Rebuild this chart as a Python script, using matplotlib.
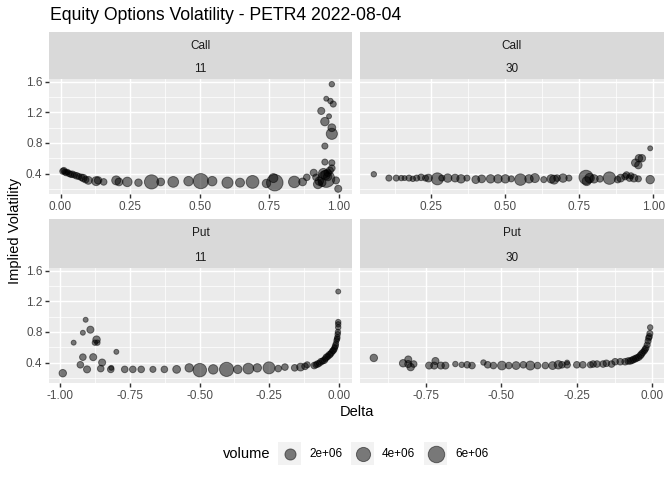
import numpy as np
import matplotlib
matplotlib.use("Agg")
import matplotlib.pyplot as plt

plt.rcParams['font.family'] = ['Liberation Sans', 'DejaVu Sans']

# Call, 11 dias
call11_delta = [0.008, 0.012, 0.016, 0.02, 0.025, 0.03, 0.036, 0.042, 0.05, 0.058, 0.066, 0.075,
                0.082, 0.09, 0.1, 0.128, 0.135, 0.155, 0.2, 0.21, 0.24, 0.28, 0.327, 0.36, 0.405,
                0.46, 0.504, 0.545, 0.6, 0.645, 0.69, 0.74, 0.765, 0.77, 0.84, 0.87, 0.885, 0.91,
                0.918, 0.925, 0.93, 0.94, 0.945, 0.952, 0.955, 0.96, 0.96, 0.968, 0.975, 0.975,
                0.99, 0.998, 0.95, 0.95, 0.975, 0.975, 0.95, 0.965, 0.937, 0.98, 0.97, 0.955, 0.975]
call11_iv = [0.43, 0.44, 0.42, 0.41, 0.42, 0.40, 0.39, 0.39, 0.38, 0.37, 0.36, 0.35,
             0.34, 0.32, 0.31, 0.30, 0.31, 0.29, 0.31, 0.29, 0.29, 0.28, 0.29, 0.29, 0.29,
             0.30, 0.30, 0.30, 0.28, 0.28, 0.29, 0.27, 0.34, 0.28, 0.29, 0.29, 0.35, 0.41,
             0.35, 0.26, 0.30, 0.28, 0.40, 0.38, 0.33, 0.41, 0.36, 0.44, 0.47, 0.54,
             0.31, 0.20, 0.55, 0.76, 0.92, 1.00, 1.08, 1.15, 1.22, 1.31, 1.35, 1.38, 1.57]
call11_vol = [0.2, 0.2, 0.2, 0.2, 0.1, 0.2, 0.2, 0.3, 0.2, 0.3, 0.2, 0.3,
              0.5, 0.3, 0.6, 1.0, 0.5, 0.3, 1.0, 0.6, 1.2, 0.5, 4.0, 0.6, 1.8,
              1.2, 4.8, 1.2, 2.0, 1.0, 3.0, 0.8, 1.0, 6.0, 2.2, 0.6, 0.3, 0.4,
              0.3, 1.0, 0.8, 0.6, 1.5, 1.2, 6.5, 0.5, 0.8, 0.4, 0.3, 0.2,
              0.4, 0.4, 0.2, 0.2, 2.0, 0.6, 0.8, 0.05, 0.4, 0.2, 0.1, 0.05, 0.1]

# Call, 30 dias
call30_delta = [0.055, 0.106, 0.131, 0.148, 0.159, 0.174, 0.187, 0.2, 0.215, 0.23, 0.24, 0.27,
                0.285, 0.305, 0.33, 0.35, 0.37, 0.4, 0.42, 0.45, 0.475, 0.5, 0.52, 0.551, 0.58,
                0.6, 0.63, 0.655, 0.665, 0.675, 0.695, 0.715, 0.773, 0.775, 0.785, 0.8, 0.82,
                0.852, 0.88, 0.89, 0.905, 0.91, 0.92, 0.925, 0.935, 0.95, 0.94, 0.95, 0.952,
                0.962, 0.99, 0.99]
call30_iv = [0.39, 0.34, 0.34, 0.34, 0.34, 0.34, 0.33, 0.34, 0.35, 0.34, 0.34, 0.33,
             0.34, 0.34, 0.34, 0.33, 0.34, 0.32, 0.33, 0.33, 0.33, 0.33, 0.33, 0.32, 0.33,
             0.34, 0.32, 0.33, 0.32, 0.34, 0.34, 0.34, 0.35, 0.30, 0.34, 0.33, 0.33,
             0.34, 0.32, 0.34, 0.36, 0.38, 0.34, 0.37, 0.34, 0.33, 0.54, 0.51, 0.60,
             0.60, 0.73, 0.32]
call30_vol = [0.1, 0.2, 0.2, 0.1, 0.05, 0.2, 0.1, 0.2, 0.3, 0.2, 0.6, 2.5,
              0.2, 0.8, 0.6, 0.8, 0.2, 0.6, 0.6, 0.8, 0.8, 0.8, 0.2, 2.2, 0.8,
              1.0, 0.2, 0.8, 1.0, 0.3, 0.8, 0.2, 4.0, 1.0, 1.2, 0.8, 0.3,
              2.8, 0.3, 0.6, 0.3, 0.3, 0.3, 0.2, 0.6, 0.2, 0.6, 0.5, 0.5,
              0.5, 0.05, 0.8]

# Put, 11 dias
put11_delta = [-0.99, -0.951, -0.927, -0.918, -0.918, -0.908, -0.903, -0.891, -0.881, -0.875,
               -0.869, -0.866, -0.854, -0.849, -0.818, -0.816, -0.798, -0.768, -0.739, -0.709,
               -0.667, -0.626, -0.582, -0.537, -0.499, -0.451, -0.403, -0.363, -0.325, -0.293,
               -0.251, -0.218, -0.194, -0.159, -0.138, -0.122, -0.114, -0.089, -0.083, -0.077,
               -0.071, -0.065, -0.059, -0.053, -0.049, -0.045, -0.04, -0.035, -0.031, -0.027,
               -0.023, -0.02, -0.017, -0.015, -0.013, -0.011, -0.009, -0.007, -0.006, -0.005,
               -0.004, -0.003, -0.003, -0.003, -0.003]
put11_iv = [0.26, 0.66, 0.37, 0.79, 0.47, 0.96, 0.31, 0.83, 0.47, 0.66,
            0.70, 0.66, 0.32, 0.40, 0.31, 0.33, 0.54, 0.31, 0.31, 0.31,
            0.31, 0.31, 0.31, 0.33, 0.30, 0.31, 0.31, 0.31, 0.32, 0.33,
            0.33, 0.32, 0.34, 0.33, 0.34, 0.35, 0.37, 0.36, 0.37, 0.38,
            0.39, 0.41, 0.42, 0.43, 0.45, 0.47, 0.48, 0.50, 0.51, 0.53,
            0.55, 0.56, 0.58, 0.60, 0.62, 0.65, 0.69, 0.71, 0.73, 0.77,
            0.80, 0.86, 0.90, 0.93, 1.33]
put11_vol = [0.5, 0.05, 0.3, 0.05, 0.3, 0.05, 0.4, 0.4, 0.4, 0.1,
             0.5, 0.1, 0.3, 0.4, 0.3, 0.05, 0.05, 0.3, 0.3, 0.3,
             0.2, 0.3, 0.6, 0.8, 3.5, 1.2, 4.0, 0.8, 1.8, 0.8,
             2.5, 0.3, 0.3, 0.3, 0.6, 0.3, 0.2, 0.3, 0.2, 0.3,
             0.2, 0.3, 0.2, 0.3, 0.2, 0.3, 0.2, 0.3, 0.2, 0.2,
             0.2, 0.2, 0.2, 0.1, 0.2, 0.1, 0.1, 0.1, 0.1, 0.1,
             0.1, 0.1, 0.1, 0.1, 0.05]

# Put, 30 dias
put30_delta = [-0.922, -0.825, -0.808, -0.808, -0.8, -0.79, -0.739, -0.722, -0.718, -0.7,
               -0.685, -0.652, -0.631, -0.613, -0.597, -0.559, -0.545, -0.526, -0.498, -0.475,
               -0.451, -0.427, -0.404, -0.38, -0.354, -0.33, -0.311, -0.299, -0.282, -0.282,
               -0.25, -0.23, -0.205, -0.196, -0.183, -0.163, -0.152, -0.135, -0.123, -0.106,
               -0.09, -0.08, -0.073, -0.067, -0.062, -0.056, -0.051, -0.045, -0.04, -0.036,
               -0.032, -0.027, -0.024, -0.021, -0.017, -0.014, -0.012, -0.01, -0.008, -0.007]
put30_iv = [0.46, 0.39, 0.44, 0.38, 0.34, 0.38, 0.36, 0.36, 0.42, 0.36,
            0.36, 0.38, 0.37, 0.37, 0.36, 0.40, 0.37, 0.36, 0.36, 0.36,
            0.36, 0.37, 0.36, 0.36, 0.36, 0.36, 0.37, 0.37, 0.37, 0.40,
            0.37, 0.37, 0.37, 0.38, 0.38, 0.38, 0.39, 0.38, 0.41, 0.41,
            0.41, 0.42, 0.42, 0.43, 0.44, 0.45, 0.46, 0.47, 0.49, 0.51,
            0.53, 0.55, 0.57, 0.59, 0.63, 0.68, 0.72, 0.74, 0.78, 0.86]
put30_vol = [0.5, 0.5, 0.4, 0.4, 0.5, 0.3, 0.4, 0.4, 0.4, 0.4,
             0.4, 0.1, 0.1, 0.3, 0.3, 0.1, 0.3, 0.3, 0.9, 0.3,
             0.6, 0.3, 1.0, 0.3, 0.3, 0.6, 0.8, 0.3, 0.3, 0.05,
             0.3, 0.3, 0.2, 0.3, 0.3, 0.3, 0.3, 0.3, 0.3, 0.3,
             0.3, 0.3, 0.3, 0.3, 0.3, 0.3, 0.3, 0.3, 0.3, 0.3,
             0.2, 0.2, 0.2, 0.2, 0.2, 0.2, 0.2, 0.2, 0.2, 0.1]

facet_types = ["Call", "Call", "Put", "Put"]
facet_days = ["11", "30", "11", "30"]
legend_vols = [2.0, 4.0, 6.0]
legend_labels = ["2e+06", "4e+06", "6e+06"]

W, H = 672, 480
VMAX = 7.5  # milhoes


def box(l, t, r, b):
    return [l / W, 1 - b / H, (r - l) / W, (b - t) / H]


def marker_s(vol):
    # diametro em px -> area em pt^2
    d = 3.8 + 14.2 * np.sqrt(np.asarray(vol) / VMAX)
    return (d * 0.75) ** 2


def expand(vals):
    lo, hi = min(vals), max(vals)
    r = hi - lo
    return lo - 0.05 * r, hi + 0.05 * r


ylim = expand(call11_iv + call30_iv + put11_iv + put30_iv)

fig = plt.figure(figsize=(7, 5), dpi=96)

panels = [
    (call11_delta, call11_iv, call11_vol, (49, 79, 352, 194), [0, 0.25, 0.5, 0.75, 1.0]),
    (call30_delta, call30_iv, call30_vol, (360, 79, 664, 194), [0, 0.25, 0.5, 0.75, 1.0]),
    (put11_delta, put11_iv, put11_vol, (49, 268, 352, 383), [-1.0, -0.75, -0.5, -0.25, 0]),
    (put30_delta, put30_iv, put30_vol, (360, 268, 664, 383), [-1.0, -0.75, -0.5, -0.25, 0]),
]

for i, (dx, dy, dv, (l, t, r, b), xt) in enumerate(panels):
    ax = fig.add_axes(box(l, t, r, b))
    ax.set_facecolor("#EBEBEB")
    xlim = expand(dx)
    xt = [v for v in xt if xlim[0] <= v <= xlim[1]]
    xminor = [v + 0.125 for v in np.arange(-1.25, 1.0, 0.25) if xlim[0] <= v + 0.125 <= xlim[1]]
    ax.set_xticks(xt)
    ax.set_xticklabels(["%.2f" % v for v in xt])
    ax.set_xticks(xminor, minor=True)
    ax.set_yticks([0.4, 0.8, 1.2, 1.6])
    ax.set_yticks([0.2, 0.6, 1.0, 1.4], minor=True)
    ax.grid(True, which="major", color="white", linewidth=1.07)
    ax.grid(True, which="minor", color="white", linewidth=0.53)
    ax.set_axisbelow(True)
    for s in ax.spines.values():
        s.set_visible(False)
    ax.tick_params(which="major", length=2.75, width=1.07, color="#333333",
                   labelsize=8.8, labelcolor="#4D4D4D", pad=2.2)
    ax.tick_params(which="minor", length=0)
    if i % 2 == 1:
        ax.tick_params(axis="y", which="major", length=0, labelleft=False)
    else:
        ax.set_yticklabels(["0.4", "0.8", "1.2", "1.6"])
    ax.scatter(dx, dy, s=marker_s(dv), facecolor=(0, 0, 0, 0.5),
               edgecolor=(0, 0, 0, 0.5), linewidth=0.7, zorder=3)
    ax.set_xlim(xlim)
    ax.set_ylim(ylim)

    # faixa do facet
    st = t - 47 if t < 100 else t - 49
    sax = fig.add_axes(box(l, st, r, t))
    sax.set_facecolor("#D9D9D9")
    sax.set_xticks([])
    sax.set_yticks([])
    for s in sax.spines.values():
        s.set_visible(False)
    sax.text(0.5, 0.71, facet_types[i], ha="center", va="center", fontsize=8.8,
             color="#1A1A1A", transform=sax.transAxes)
    sax.text(0.5, 0.21, facet_days[i], ha="center", va="center", fontsize=8.8,
             color="#1A1A1A", transform=sax.transAxes)

fig.text(50 / W, 1 - 15 / H, "Equity Options Volatility - PETR4 2022-08-04",
         ha="left", va="center", fontsize=13.2, color="black")
fig.text(15 / W, 1 - 231 / H, "Implied Volatility", rotation=90,
         ha="center", va="center", fontsize=11, color="black")
fig.text(356.5 / W, 1 - 412 / H, "Delta", ha="center", va="center",
         fontsize=11, color="black")

# legenda
lax = fig.add_axes([0, 0, 1, 1])
lax.set_xlim(0, W)
lax.set_ylim(H, 0)
lax.axis("off")
lax.text(247, 454, "volume", ha="center", va="center", fontsize=11, color="black")
key_x = [278, 351, 424]
for kx, v, lab in zip(key_x, legend_vols, legend_labels):
    lax.add_patch(plt.Rectangle((kx, 442), 23, 23, facecolor="#F2F2F2", edgecolor="none"))
    lax.scatter([kx + 11.5], [453.5], s=marker_s([v]), facecolor=(0, 0, 0, 0.5),
                edgecolor=(0, 0, 0, 0.5), linewidth=0.7)
    lax.text(kx + 31, 454, lab, ha="left", va="center", fontsize=8.8, color="black")

fig.savefig("out.png", dpi=96)
